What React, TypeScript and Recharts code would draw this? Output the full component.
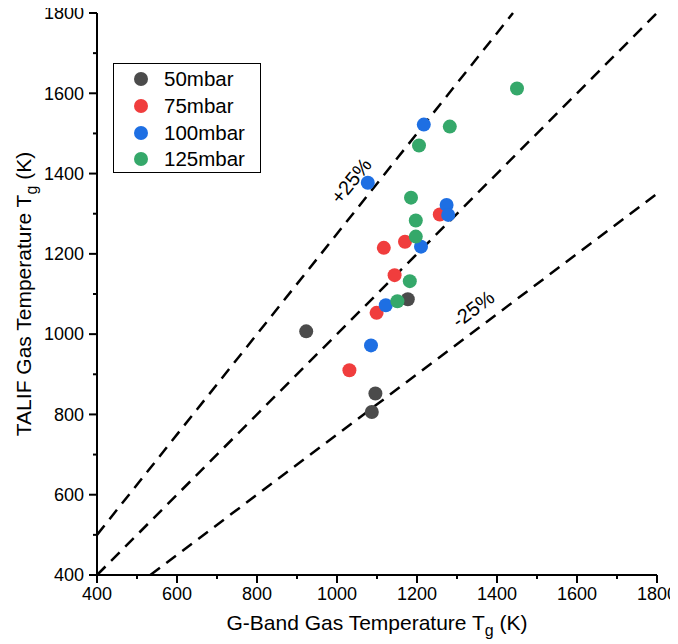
import React from "react";
import {
  ScatterChart,
  Scatter,
  XAxis,
  YAxis,
  ReferenceLine,
  ReferenceDot,
} from "recharts";

// G-Band Tg (x) vs TALIF Tg (y)
const p50 = [
  { x: 923, y: 1007 },
  { x: 1177, y: 1087 },
  { x: 1096, y: 852 },
  { x: 1087, y: 806 },
];
const p75 = [
  { x: 1031, y: 910 },
  { x: 1099, y: 1053 },
  { x: 1144, y: 1147 },
  { x: 1117, y: 1215 },
  { x: 1170, y: 1230 },
  { x: 1257, y: 1298 },
];
const p100 = [
  { x: 1217, y: 1522 },
  { x: 1077, y: 1377 },
  { x: 1274, y: 1322 },
  { x: 1278, y: 1297 },
  { x: 1210, y: 1218 },
  { x: 1122, y: 1072 },
  { x: 1085, y: 972 },
];
const p125 = [
  { x: 1450, y: 1612 },
  { x: 1282, y: 1517 },
  { x: 1205, y: 1470 },
  { x: 1185, y: 1340 },
  { x: 1197, y: 1283 },
  { x: 1197, y: 1243 },
  { x: 1182, y: 1132 },
  { x: 1151, y: 1082 },
];

const series = [
  { name: "50mbar", data: p50, color: "#4b4b4b" },
  { name: "75mbar", data: p75, color: "#f03d3d" },
  { name: "100mbar", data: p100, color: "#1e6fe3" },
  { name: "125mbar", data: p125, color: "#35a86a" },
];

const xTicks = [400, 500, 600, 700, 800, 900, 1000, 1100, 1200, 1300, 1400, 1500, 1600, 1700, 1800];
const yTicks = [400, 500, 600, 700, 800, 900, 1000, 1100, 1200, 1300, 1400, 1500, 1600, 1700, 1800];
const labelledTicks = [400, 600, 800, 1000, 1200, 1400, 1600, 1800];

// y = k * x guide lines
const guides = [
  { k: 1.25, label: "+25%", lx: 1035, ly: 1382, angle: -51 },
  { k: 1, label: "", lx: 0, ly: 0, angle: 0 },
  { k: 0.75, label: "-25%", lx: 1340, ly: 1063, angle: -37 },
];

const LO = 400;
const HI = 1800;
const FONT = "'Liberation Sans', Arial, sans-serif";

const isMajor = (v: number) => labelledTicks.includes(v);

const BottomTick = (props: any) => {
  const { x, y, payload } = props;
  const major = isMajor(payload.value);
  return (
    <g>
      <line x1={x} y1={y} x2={x} y2={y + (major ? 8 : 4)} stroke="#000" strokeWidth={2} />
      {major && (
        <text x={x} y={y + 25} textAnchor="middle" fontSize={18} fontFamily={FONT} fill="#000">
          {payload.value}
        </text>
      )}
    </g>
  );
};

const LeftTick = (props: any) => {
  const { x, y, payload } = props;
  const major = isMajor(payload.value);
  return (
    <g>
      <line x1={x} y1={y} x2={x - (major ? 8 : 4)} y2={y} stroke="#000" strokeWidth={2} />
      {major && (
        <text x={x - 13} y={y} dy="0.35em" textAnchor="end" fontSize={18} fontFamily={FONT} fill="#000">
          {payload.value}
        </text>
      )}
    </g>
  );
};

const TopTick = (props: any) => {
  const { x, y, payload } = props;
  return <line x1={x} y1={y} x2={x} y2={y + (isMajor(payload.value) ? 8 : 4)} stroke="#000" strokeWidth={2} />;
};

const RightTick = (props: any) => {
  const { x, y, payload } = props;
  return <line x1={x} y1={y} x2={x - (isMajor(payload.value) ? 8 : 4)} y2={y} stroke="#000" strokeWidth={2} />;
};

const Dot = (props: any) => <circle cx={props.cx} cy={props.cy} r={7} fill={props.fill} />;

const XTitle = (props: any) => {
  const vb = props.viewBox;
  const cx = vb.x + vb.width / 2;
  return (
    <text x={cx} y={vb.y + 55} textAnchor="middle" fontSize={21} fontFamily={FONT} fill="#000">
      G-Band Gas Temperature T
      <tspan dy={6} fontSize={16}>g</tspan>
      <tspan dy={-6}> (K)</tspan>
    </text>
  );
};

const YTitle = (props: any) => {
  const vb = props.viewBox;
  const cy = vb.y + vb.height / 2;
  const x = 31;
  return (
    <text
      x={x}
      y={cy}
      transform={`rotate(-90, ${x}, ${cy})`}
      textAnchor="middle"
      fontSize={21}
      fontFamily={FONT}
      fill="#000"
    >
      TALIF Gas Temperature T
      <tspan dy={6} fontSize={16}>g</tspan>
      <tspan dy={-6}> (K)</tspan>
    </text>
  );
};

const guideSegment = (k: number) => {
  const x1 = Math.max(LO, LO / k);
  const x2 = Math.min(HI, HI / k);
  return [
    { x: x1, y: k * x1 },
    { x: x2, y: k * x2 },
  ];
};

const Legend = () => (
  <div
    style={{
      position: "absolute",
      left: 113,
      top: 63,
      width: 148,
      height: 110,
      border: "1.5px solid #000",
      boxSizing: "border-box",
      background: "#fff",
      fontFamily: FONT,
      fontSize: 20.5,
      paddingTop: 2,
    }}
  >
    {series.map((s) => (
      <div key={s.name} style={{ display: "flex", alignItems: "center", height: 26.7 }}>
        <span
          style={{
            display: "inline-block",
            width: 14,
            height: 14,
            borderRadius: "50%",
            background: s.color,
            marginLeft: 20,
            marginRight: 16,
          }}
        />
        <span>{s.name}</span>
      </div>
    ))}
  </div>
);

export default function App() {
  return (
    <div style={{ position: "relative", width: 678, height: 644, margin: "-8px 0 0 -8px" }}>
      <ScatterChart width={678} height={644} margin={{ top: 13, right: 21, left: 0, bottom: 0 }}>
        <XAxis
          xAxisId="b"
          type="number"
          dataKey="x"
          domain={[LO, HI]}
          ticks={xTicks}
          interval={0}
          height={69}
          tickSize={0}
          tickMargin={0}
          tickLine={false}
          tick={<BottomTick />}
          axisLine={{ stroke: "#000", strokeWidth: 2 }}
          allowDataOverflow
          label={<XTitle />}
        />
        <XAxis
          xAxisId="t"
          orientation="top"
          type="number"
          domain={[LO, HI]}
          ticks={xTicks}
          interval={0}
          height={0}
          tickSize={0}
          tickMargin={0}
          tickLine={false}
          tick={<TopTick />}
          axisLine={{ stroke: "#000", strokeWidth: 2 }}
          allowDataOverflow
        />
        <YAxis
          yAxisId="l"
          type="number"
          dataKey="y"
          domain={[LO, HI]}
          ticks={yTicks}
          interval={0}
          width={97}
          tickSize={0}
          tickMargin={0}
          tickLine={false}
          tick={<LeftTick />}
          axisLine={{ stroke: "#000", strokeWidth: 2 }}
          allowDataOverflow
          label={<YTitle />}
        />
        <YAxis
          yAxisId="r"
          orientation="right"
          type="number"
          domain={[LO, HI]}
          ticks={yTicks}
          interval={0}
          width={0}
          tickSize={0}
          tickMargin={0}
          tickLine={false}
          tick={<RightTick />}
          axisLine={{ stroke: "#000", strokeWidth: 2 }}
          allowDataOverflow
        />
        {series.map((s) => (
          <Scatter
            key={s.name}
            name={s.name}
            data={s.data}
            xAxisId="b"
            yAxisId="l"
            fill={s.color}
            shape={<Dot />}
            isAnimationActive={false}
          />
        ))}
        {guides.map((g) => (
          <ReferenceLine
            key={g.k}
            xAxisId="b"
            yAxisId="l"
            segment={guideSegment(g.k)}
            stroke="#000"
            strokeWidth={2.5}
            strokeDasharray="12 8"
          />
        ))}
        {guides
          .filter((g) => g.label)
          .map((g) => (
            <ReferenceDot
              key={g.label}
              xAxisId="b"
              yAxisId="l"
              x={g.lx}
              y={g.ly}
              r={0}
              shape={(p: any) => (
                <text
                  x={p.cx}
                  y={p.cy}
                  dy="0.35em"
                  textAnchor="middle"
                  transform={`rotate(${g.angle}, ${p.cx}, ${p.cy})`}
                  fontSize={20}
                  fontFamily={FONT}
                  fill="#000"
                >
                  {g.label}
                </text>
              )}
            />
          ))}
      </ScatterChart>
      <Legend />
    </div>
  );
}
